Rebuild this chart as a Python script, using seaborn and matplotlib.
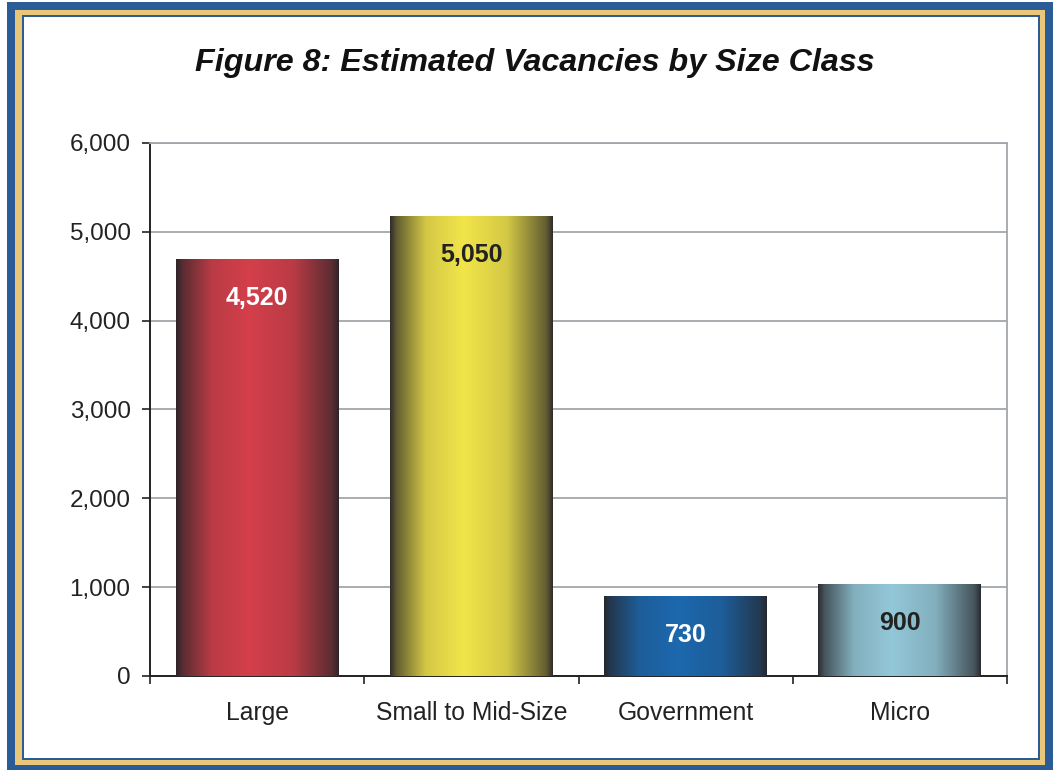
import matplotlib.pyplot as plt
import matplotlib.colors as mcolors
from matplotlib.patches import Rectangle
from matplotlib.ticker import FixedLocator, FuncFormatter
import numpy as np
import pandas as pd
import seaborn as sns

# data
categories = ['Large', 'Small to Mid-Size', 'Government', 'Micro']
labels = ['4,520', '5,050', '730', '900']          # printed on the bars
heights = [4690, 5170, 890, 1025]                  # drawn bar heights
bar_colors = ['#d43f4a', '#f2e54a', '#1c68ae', '#93c8d8']
label_colors = ['white', '#222222', 'white', '#222222']

df = pd.DataFrame({'cat': categories, 'h': heights})

sns.set_theme(style='white')
plt.rcParams['font.family'] = ['Liberation Sans', 'DejaVu Sans']

fig = plt.figure(figsize=(10.53, 7.7), dpi=100)
ax = fig.add_axes([0.1425, 0.1221, 0.8138, 0.6922])

sns.barplot(data=df, x='cat', y='h', ax=ax, width=0.76, color='white',
            linewidth=0, zorder=3)

# shaded gradient inside each bar
xs = np.linspace(0, 1, 256)
w = np.interp(xs, [0, 0.04, 0.22, 0.45, 0.72, 0.96, 1], [0.05, 0.3, 0.85, 1, 0.85, 0.3, 0.05])
dark = np.array(mcolors.to_rgb('#262428'))
for p, c in zip(ax.patches, bar_colors):
    col = np.array(mcolors.to_rgb(c))
    img = dark[None, :] * (1 - w[:, None]) + col[None, :] * w[:, None]
    x0, y0 = p.get_x(), p.get_y()
    ax.imshow(img[None, :, :], extent=[x0, x0 + p.get_width(), y0, y0 + p.get_height()],
              aspect='auto', zorder=4)

for i, (p, t) in enumerate(zip(ax.patches, labels)):
    ax.text(p.get_x() + p.get_width() / 2, p.get_height() - 430, t, ha='center', va='center',
            fontsize=18, fontweight='bold', color=label_colors[i], zorder=5)

ax.set_xlim(-0.5, 3.5)
ax.set_ylim(0, 6000)
ax.set_yticks(range(0, 6001, 1000))
ax.yaxis.set_major_formatter(FuncFormatter(lambda v, _: f'{int(v):,}'))
ax.yaxis.grid(True, color='#a3a7ab', linewidth=1.3, zorder=0)
ax.set_axisbelow(True)
ax.set_xlabel('')
ax.set_ylabel('')

ax.xaxis.set_minor_locator(FixedLocator([-0.5, 0.5, 1.5, 2.5, 3.5]))
ax.tick_params(axis='x', which='major', length=0, pad=18, labelsize=17.8, labelcolor='#222222')
ax.tick_params(axis='x', which='minor', bottom=True, length=6, width=1.2, color='#222222')
ax.tick_params(axis='y', left=True, length=6, width=1.2, color='#222222', pad=8,
               labelsize=17.5, labelcolor='#222222')

for s in ['left', 'bottom']:
    ax.spines[s].set_color('#222222')
    ax.spines[s].set_linewidth(1.4)
for s in ['top', 'right']:
    ax.spines[s].set_visible(True)
    ax.spines[s].set_color('#a3a7ab')
    ax.spines[s].set_linewidth(1.3)

fig.text(0.508, 0.918, 'Figure 8: Estimated Vacancies by Size Class', ha='center', va='center',
         fontsize=23.2, fontweight='bold', fontstyle='italic', color='#111111')

# decorative frame
W, H = 1053, 770
def frame(x0, y0, x1, y1, color):
    fig.patches.append(Rectangle((x0 / W, 1 - y1 / H), (x1 - x0) / W, (y1 - y0) / H,
                                 transform=fig.transFigure, facecolor=color,
                                 edgecolor='none', zorder=-10))

frame(7, 2, 1053, 770, '#2b5c98')
frame(15, 10, 1045, 765, '#e8c878')
frame(22, 15, 1040, 760, '#2b5c98')
frame(24, 17, 1038, 758, 'white')

fig.savefig('out.png', dpi=100)
